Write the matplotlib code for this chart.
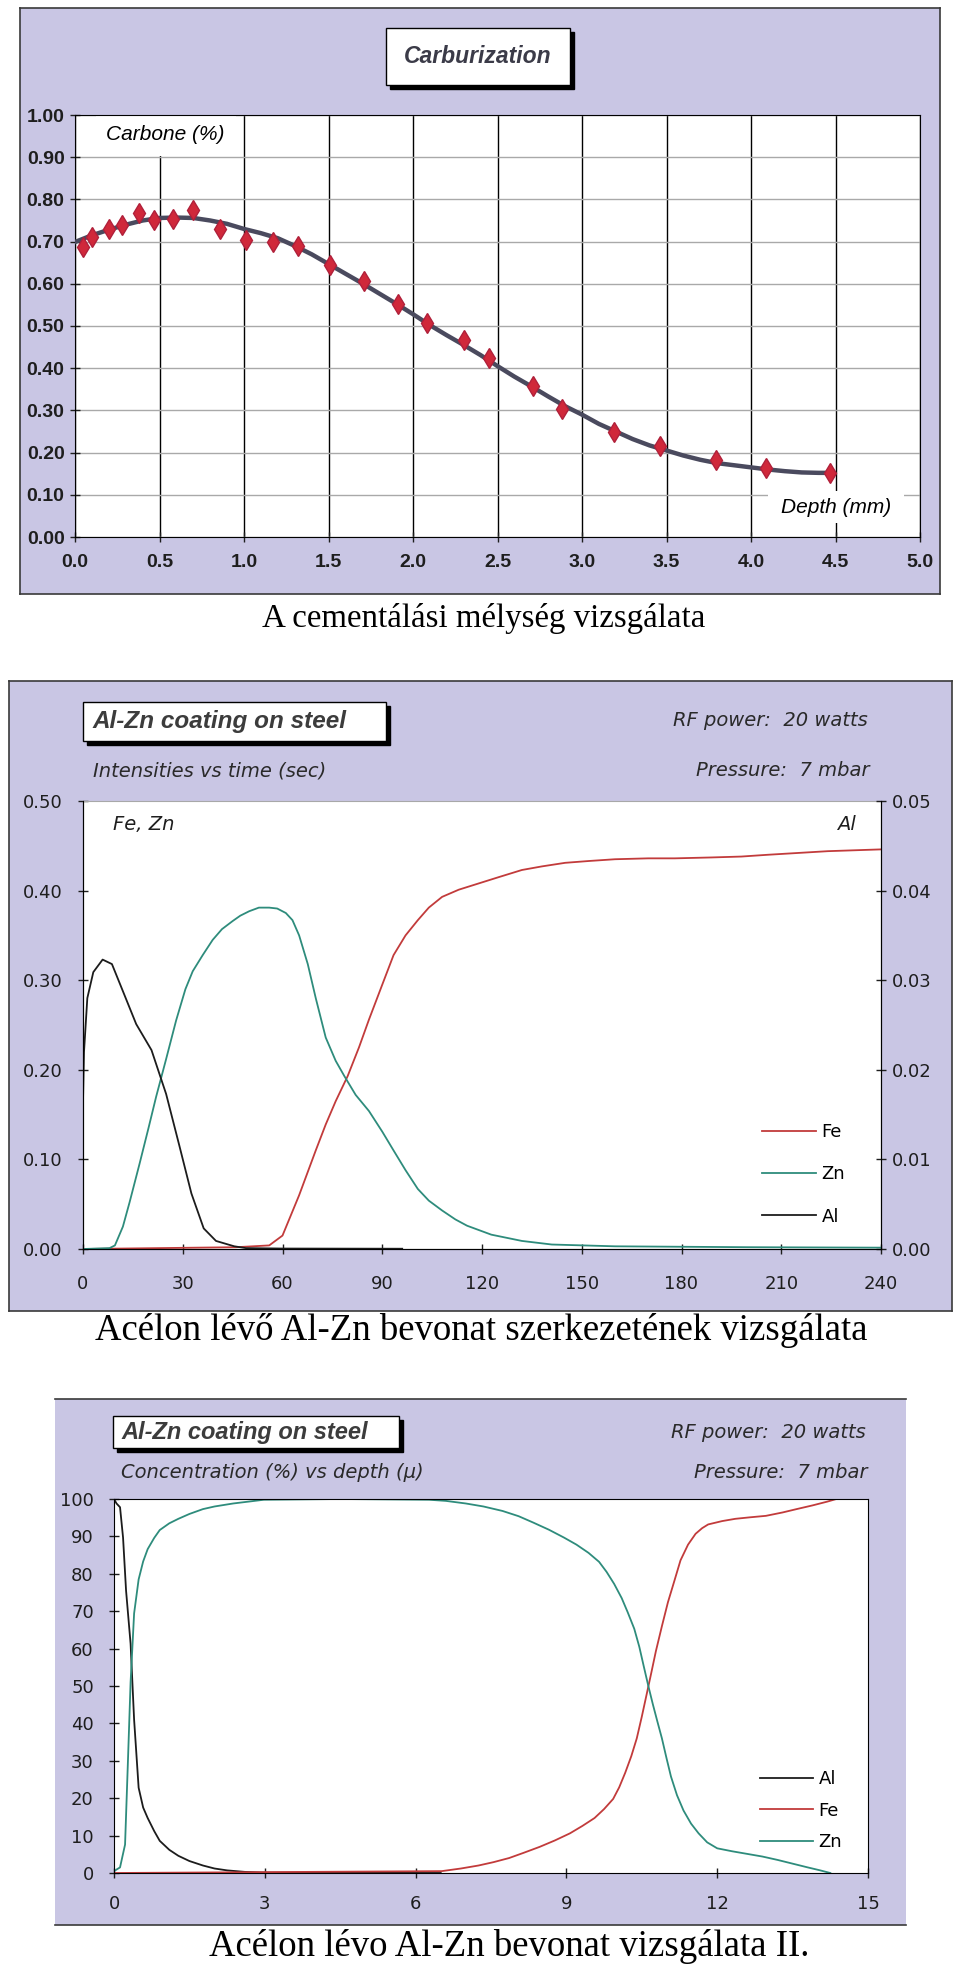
import matplotlib

matplotlib.use("Agg")
import matplotlib.pyplot as plt
from matplotlib.patches import Rectangle
from matplotlib.ticker import FormatStrFormatter, MultipleLocator

W, H = 960, 1972

NARROW = ["Liberation Sans Narrow", "Liberation Sans", "DejaVu Sans"]
SANS = ["Liberation Sans", "DejaVu Sans"]
WIDE = ["DejaVu Sans"]
SERIF = ["Liberation Serif", "DejaVu Serif"]

PANEL = "#c9c6e4"
FE_C, ZN_C, AL_C = "#c23b3b", "#2e8c7c", "#1c1c1c"

# --- Carburization: measured points and fitted profile ---
carb_x = [0.05, 0.10, 0.20, 0.28, 0.38, 0.47, 0.58, 0.70, 0.86, 1.01, 1.17, 1.32, 1.51,
          1.71, 1.91, 2.08, 2.30, 2.45, 2.71, 2.88, 3.19, 3.46, 3.79, 4.09, 4.47]
carb_y = [0.687, 0.712, 0.731, 0.740, 0.768, 0.751, 0.754, 0.776, 0.729, 0.703, 0.698,
          0.689, 0.645, 0.607, 0.553, 0.507, 0.467, 0.425, 0.357, 0.304, 0.248, 0.215,
          0.182, 0.164, 0.152]
fit_x = [0, 0.1, 0.2, 0.3, 0.4, 0.5, 0.6, 0.7, 0.8, 0.9, 1.0, 1.1, 1.2, 1.3, 1.4, 1.5,
         1.6, 1.7, 1.8, 1.9, 2.0, 2.1, 2.2, 2.3, 2.4, 2.5, 2.6, 2.7, 2.8, 2.9, 3.0, 3.1,
         3.2, 3.3, 3.4, 3.5, 3.6, 3.7, 3.8, 3.9, 4.0, 4.1, 4.2, 4.3, 4.4, 4.47]
fit_y = [0.699, 0.715, 0.728, 0.740, 0.750, 0.756, 0.757, 0.756, 0.750, 0.742, 0.730,
         0.720, 0.708, 0.690, 0.670, 0.647, 0.624, 0.601, 0.577, 0.553, 0.528, 0.502,
         0.478, 0.455, 0.431, 0.405, 0.380, 0.357, 0.333, 0.310, 0.290, 0.268, 0.250,
         0.232, 0.217, 0.205, 0.193, 0.183, 0.175, 0.170, 0.165, 0.160, 0.156, 0.153,
         0.152, 0.152]

# --- Intensities vs time (sec) ---
fe_t = [0, 46, 56, 60, 62, 65, 67.6, 70, 73, 76, 79.6, 83, 86, 90, 93.4, 97, 100.7, 104,
        108, 113, 119, 125, 132, 138, 145, 152, 160, 170, 178, 189, 198, 206, 215, 224,
        232, 240]
fe_i = [0, 0.002, 0.004, 0.015, 0.033, 0.06, 0.086, 0.11, 0.139, 0.165, 0.193, 0.225,
        0.256, 0.295, 0.328, 0.35, 0.367, 0.381, 0.393, 0.401, 0.408, 0.415, 0.423,
        0.427, 0.431, 0.433, 0.435, 0.436, 0.436, 0.437, 0.438, 0.440, 0.442, 0.444,
        0.445, 0.446]
zn_t = [0, 8, 9.6, 12, 14, 17, 19.7, 22, 25, 28, 30.8, 33, 36, 39, 41.8, 45, 47.3, 50,
        52.9, 56, 58.4, 61, 63, 65, 67.6, 70, 73, 76, 78.6, 82, 86, 90, 93.4, 97, 100.7,
        104, 108, 112, 115.5, 122.8, 132, 141, 160, 200, 240]
zn_i = [0, 0.001, 0.004, 0.025, 0.052, 0.095, 0.135, 0.17, 0.212, 0.255, 0.29, 0.31,
        0.328, 0.345, 0.357, 0.366, 0.372, 0.377, 0.381, 0.381, 0.380, 0.375, 0.367,
        0.35, 0.318, 0.28, 0.236, 0.21, 0.193, 0.172, 0.154, 0.131, 0.110, 0.088, 0.067,
        0.054, 0.043, 0.033, 0.026, 0.016, 0.009, 0.005, 0.003, 0.002, 0.0015]
al_t = [0, 0.3, 1.3, 3.1, 5.9, 8.7, 12.3, 16, 20.6, 25, 29, 32.6, 36.3, 40, 45.5, 49, 60, 96]
al_i = [0.0164, 0.022, 0.028, 0.0309, 0.0323, 0.0318, 0.0285, 0.0251, 0.0222, 0.0173,
        0.0115, 0.0062, 0.0023, 0.0009, 0.0003, 0.0001, 0.00005, 0.00003]

# --- Concentration (%) vs depth ---
al_d = [0, 0.05, 0.12, 0.18, 0.24, 0.33, 0.40, 0.49, 0.58, 0.67, 0.8, 0.91, 1.1, 1.28,
        1.5, 1.77, 2.0, 2.25, 2.6, 3.0, 6.5]
al_c = [100, 98.8, 97.8, 89.7, 75.5, 61.3, 41, 22.8, 17.5, 14.7, 11.2, 8.6, 6.2, 4.6,
        3.2, 2.0, 1.2, 0.7, 0.3, 0.1, 0]
zn_d = [0, 0.12, 0.22, 0.28, 0.33, 0.40, 0.49, 0.58, 0.67, 0.8, 0.91, 1.1, 1.28, 1.5,
        1.77, 2.0, 2.37, 2.98, 4.5, 6.27, 6.6, 7.0, 7.35, 7.73, 8.05, 8.34, 8.65, 8.95,
        9.2, 9.44, 9.65, 9.8, 9.95, 10.1, 10.22, 10.35, 10.45, 10.54, 10.63, 10.72,
        10.81, 10.9, 10.99, 11.08, 11.2, 11.33, 11.48, 11.63, 11.8, 12.0, 12.3, 12.6,
        12.9, 13.2, 13.5, 13.8, 14.05, 14.25]
zn_c = [0.5, 1.5, 7.6, 31, 51, 69.4, 78.5, 83.3, 86.6, 89.6, 91.7, 93.5, 94.7, 96, 97.3,
        98.0, 98.8, 99.8, 100, 99.8, 99.5, 98.8, 98.0, 96.8, 95.4, 93.7, 91.8, 89.7,
        87.8, 85.6, 83.2, 80.5, 77.3, 73.5, 69.7, 65.3, 60.5, 55.2, 50, 45.1, 40.5, 36,
        30.8, 25.8, 20.8, 16.7, 13.2, 10.6, 8.2, 6.6, 5.8, 5.1, 4.4, 3.5, 2.5, 1.5, 0.7, 0]
fe_d = [0, 6.52, 6.9, 7.25, 7.55, 7.86, 8.15, 8.47, 8.77, 9.07, 9.32, 9.56, 9.75, 9.93,
        10.05, 10.17, 10.29, 10.4, 10.5, 10.6, 10.69, 10.78, 10.9, 11.02, 11.15, 11.27,
        11.42, 11.57, 11.7, 11.82, 12.1, 12.36, 12.65, 12.97, 13.3, 13.58, 13.9, 14.19,
        14.37]
fe_c = [0, 0.5, 1.2, 2, 2.9, 4, 5.4, 7, 8.7, 10.6, 12.6, 14.7, 17.1, 19.8, 22.9, 26.8,
        31.2, 36, 41.8, 48, 53.6, 59.3, 66, 72.4, 78.2, 83.6, 87.8, 90.7, 92.2, 93.2,
        94.1, 94.7, 95.1, 95.5, 96.4, 97.3, 98.3, 99.3, 100]

captions = ["A cementálási mélység vizsgálata",
            "Acélon lévő Al-Zn bevonat szerkezetének vizsgálata",
            "Acélon lévo Al-Zn bevonat vizsgálata II."]


def fx(x):
    return x / W


def fy(y):
    return 1 - y / H


def px_rect(x0, y0, x1, y1):
    return [fx(x0), fy(y1), (x1 - x0) / W, (y1 - y0) / H]


def panel(fig, x0, y0, x1, y1, sides="all"):
    fig.add_artist(Rectangle((fx(x0), fy(y1)), (x1 - x0) / W, (y1 - y0) / H,
                             transform=fig.transFigure, facecolor=PANEL,
                             edgecolor="none", zorder=-2))
    edges = [((x0, x1), (y0, y0)), ((x0, x1), (y1, y1))]
    if sides == "all":
        edges += [((x0, x0), (y0, y1)), ((x1, x1), (y0, y1))]
    for xs, ys in edges:
        fig.add_artist(plt.Line2D([fx(v) for v in xs], [fy(v) for v in ys],
                                  transform=fig.transFigure, color="#3a3a3a", lw=1.2,
                                  zorder=-1))


def title_box(fig, x0, y0, x1, y1, text, size, tx=None):
    for dx, fc in ((4, "black"), (0, "white")):
        fig.add_artist(Rectangle((fx(x0 + dx), fy(y1 + dx)), (x1 - x0) / W,
                                 (y1 - y0) / H, transform=fig.transFigure,
                                 facecolor=fc, edgecolor="black", lw=1, zorder=1))
    if tx is None:
        fig.text(fx((x0 + x1) / 2), fy((y0 + y1) / 2), text, ha="center", va="center",
                 fontsize=size, fontweight="bold", style="italic", color="#3b3b48",
                 family=SANS, zorder=2)
    else:
        fig.text(fx(tx), fy((y0 + y1) / 2), text, ha="left", va="center",
                 fontsize=size, fontweight="bold", style="italic", color="#3c3c3c",
                 family=SANS, zorder=2)


def header_notes(fig, left_x, sub, right_x, y_top, y_sub):
    kw = dict(va="center", fontsize=14, style="italic", color="#2a2a2a", family=WIDE)
    fig.text(fx(left_x), fy(y_sub), sub, ha="left", **kw)
    fig.text(fx(right_x), fy(y_top), "RF power:  20 watts", ha="right", **kw)
    fig.text(fx(right_x + 2), fy(y_sub), "Pressure:  7 mbar", ha="right", **kw)


def cross_ticks(ax, pad_x, pad_y, size=13):
    ax.tick_params(axis="x", direction="inout", length=7, width=1, pad=pad_x,
                   labelsize=size, colors="#1e1e1e")
    ax.tick_params(axis="y", direction="inout", length=7, width=1, pad=pad_y,
                   labelsize=size, colors="#1e1e1e")


def white_patch(ax, x0, y0, x1, y1):
    # label backgrounds that mask the grid, as in the spreadsheet original
    ax.add_patch(Rectangle((x0, y0), x1 - x0, y1 - y0, transform=ax.transAxes,
                           facecolor="white", edgecolor="none", zorder=1.2))


def carburization(fig):
    panel(fig, 20, 8, 940, 594)
    title_box(fig, 386, 28, 570, 85, "Carburization", 16.5)

    ax = fig.add_axes(px_rect(75, 115, 920, 537))
    ax.set_xlim(0, 5)
    ax.set_ylim(0, 1)
    ax.xaxis.set_major_locator(MultipleLocator(0.5))
    ax.yaxis.set_major_locator(MultipleLocator(0.1))
    ax.xaxis.set_major_formatter(FormatStrFormatter("%.1f"))
    ax.yaxis.set_major_formatter(FormatStrFormatter("%.2f"))
    ax.set_axisbelow(True)
    ax.grid(axis="y", color="#a9a9a9", lw=1)
    ax.grid(axis="x", color="black", lw=1)
    for sp in ax.spines.values():
        sp.set_color("black")
    cross_ticks(ax, 9, 4, size=14)
    for lab in ax.get_xticklabels() + ax.get_yticklabels():
        lab.set_family(NARROW)
        lab.set_fontweight("bold")

    ax.plot(fit_x, fit_y, color="#4a4a5e", lw=3.2, zorder=3)
    ax.plot(carb_x, carb_y, ls="none", marker="d", markersize=10, color="#d0283a",
            markeredgecolor="#b0203a", zorder=4)

    white_patch(ax, 0.025, 0.902, 0.19, 1.0)
    white_patch(ax, 0.82, 0.033, 0.981, 0.109)
    kw = dict(transform=ax.transAxes, ha="center", va="center", fontsize=15,
              style="italic", family=SANS, zorder=1.5)
    ax.text(0.1065, 0.953, "Carbone (%)", **kw)
    ax.text(0.9006, 0.071, "Depth (mm)", **kw)

    fig.text(fx(484), fy(619), captions[0], ha="center", va="center", fontsize=23.7,
             family=SERIF)


def intensities(fig):
    panel(fig, 9, 681, 952, 1311)
    title_box(fig, 83, 702, 386, 741, "Al-Zn coating on steel", 17.5, tx=92)
    header_notes(fig, 93, "Intensities vs time (sec)", 868, 721, 771)

    ax = fig.add_axes(px_rect(83, 801, 881, 1249))
    ax.set_xlim(0, 240)
    ax.set_ylim(0, 0.5)
    ax.xaxis.set_major_locator(MultipleLocator(30))
    ax.yaxis.set_major_locator(MultipleLocator(0.1))
    ax.yaxis.set_major_formatter(FormatStrFormatter("%.2f"))
    ax.spines["top"].set_color("#a8a8a8")
    cross_ticks(ax, 15, 11)
    for lab in ax.get_xticklabels() + ax.get_yticklabels():
        lab.set_family(WIDE)

    ax2 = ax.twinx()
    ax2.set_ylim(0, 0.05)
    ax2.yaxis.set_major_locator(MultipleLocator(0.01))
    ax2.yaxis.set_major_formatter(FormatStrFormatter("%.2f"))
    ax2.spines["top"].set_visible(False)
    ax2.tick_params(axis="y", direction="inout", length=7, width=1, pad=4.5,
                    labelsize=13, colors="#1e1e1e")
    for lab in ax2.get_yticklabels():
        lab.set_family(WIDE)

    fe, = ax.plot(fe_t, fe_i, color=FE_C, lw=1.3, label="Fe")
    zn, = ax.plot(zn_t, zn_i, color=ZN_C, lw=1.3, label="Zn")
    al, = ax2.plot(al_t, al_i, color=AL_C, lw=1.3, label="Al")

    kw = dict(transform=ax.transAxes, va="center", fontsize=14, style="italic",
              family=WIDE, color="#1e1e1e")
    ax.text((113 - 83) / 798, 1 - 24 / 448, "Fe, Zn", ha="left", **kw)
    ax.text((856 - 83) / 798, 1 - 24 / 448, "Al", ha="right", **kw)

    ax2.legend([fe, zn, al], ["Fe", "Zn", "Al"], loc="upper left",
               bbox_to_anchor=(fx(762), fy(1123)), bbox_transform=fig.transFigure,
               frameon=False, borderpad=0, borderaxespad=0, handlelength=3.0,
               handletextpad=0.3, labelspacing=1.35, prop=dict(family=WIDE, size=13))

    fig.text(fx(481), fy(1330), captions[1], ha="center", va="center", fontsize=26.5,
             family=SERIF)


def concentration(fig):
    panel(fig, 55, 1399, 906, 1925, sides="tb")
    title_box(fig, 113, 1416, 399, 1448, "Al-Zn coating on steel", 17, tx=121)
    header_notes(fig, 121, "Concentration (%) vs depth (µ)", 866, 1433, 1472)

    ax = fig.add_axes(px_rect(114, 1499, 868, 1873))
    ax.set_xlim(0, 15)
    ax.set_ylim(0, 100)
    ax.xaxis.set_major_locator(MultipleLocator(3))
    ax.yaxis.set_major_locator(MultipleLocator(10))
    for sp in ax.spines.values():
        sp.set_color("black")
    cross_ticks(ax, 12, 11)
    for lab in ax.get_xticklabels() + ax.get_yticklabels():
        lab.set_family(WIDE)

    al, = ax.plot(al_d, al_c, color=AL_C, lw=1.3)
    fe, = ax.plot(fe_d, fe_c, color=FE_C, lw=1.3)
    zn, = ax.plot(zn_d, zn_c, color=ZN_C, lw=1.3)

    ax.legend([al, fe, zn], ["Al", "Fe", "Zn"], loc="upper left",
              bbox_to_anchor=(fx(760), fy(1770)), bbox_transform=fig.transFigure,
              frameon=False, borderpad=0, borderaxespad=0, handlelength=2.95,
              handletextpad=0.3, labelspacing=0.75, prop=dict(family=WIDE, size=13))

    fig.text(fx(509), fy(1946), captions[2], ha="center", va="center", fontsize=26.5,
             family=SERIF)


fig = plt.figure(figsize=(W / 100, H / 100), dpi=100, facecolor="white")
carburization(fig)
intensities(fig)
concentration(fig)
fig.savefig("out.png", dpi=100, facecolor="white")
